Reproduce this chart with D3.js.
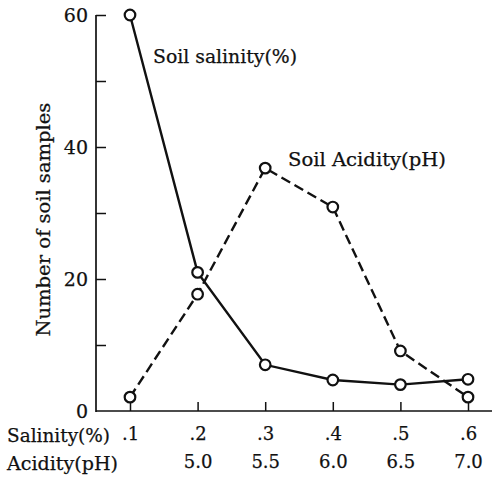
<!DOCTYPE html>
<html>
<head>
<meta charset="utf-8">
<script src="https://cdn.jsdelivr.net/npm/d3@7"></script>
<style>
  body { margin: 0; background: #fff; }
  svg { display: block; }
  text { stroke: #111; stroke-width: 0.25px; }
</style>
</head>
<body>
<svg id="chart" width="492" height="477"></svg>
<script>
// values
const salinity = [0.1, 0.2, 0.3, 0.4, 0.5, 0.6];
const salinityLabels = [".1", ".2", ".3", ".4", ".5", ".6"];
const acidityLabels = ["", "5.0", "5.5", "6.0", "6.5", "7.0"];
const salinityCounts = [60, 21, 7, 4.7, 4, 4.8];
const acidityCounts = [2.1, 17.7, 36.8, 30.9, 9.1, 2.1];
const yMajor = [0, 20, 40, 60];
const yMinor = [10, 30, 50];

const FONT = "'DejaVu Serif', 'Liberation Serif', serif";
const INK = "#111";

const svg = d3.select("#chart");
const width = 492;
const axisX = 96, axisY = 411;

const x = d3.scaleLinear().domain([0.1, 0.6]).range([130, 468]);
const y = d3.scaleLinear().domain([0, 60]).range([axisY, 15]);

// axis lines
svg.append("line")
    .attr("x1", axisX).attr("x2", axisX)
    .attr("y1", y(60)).attr("y2", axisY + 1)
    .attr("stroke", INK).attr("stroke-width", 1.7);
svg.append("line")
    .attr("x1", axisX).attr("x2", width)
    .attr("y1", axisY).attr("y2", axisY)
    .attr("stroke", INK).attr("stroke-width", 1.7);

// y axis, ticks point inward
const yAxis = svg.append("g")
    .attr("transform", `translate(${axisX},0)`)
    .call(d3.axisLeft(y).tickValues(yMajor).tickSizeInner(-10).tickSizeOuter(0).tickPadding(8).tickFormat(d3.format("d")));
yAxis.attr("font-family", FONT).attr("font-size", 19);
yAxis.select(".domain").remove();
yAxis.selectAll(".tick line").attr("stroke", INK).attr("stroke-width", 1.5)
    .filter(d => d === 0).remove();
yAxis.selectAll("text").attr("fill", INK).attr("dy", "0.36em");

const yMinorAxis = svg.append("g")
    .attr("transform", `translate(${axisX},0)`)
    .call(d3.axisLeft(y).tickValues(yMinor).tickSizeInner(-10).tickSizeOuter(0).tickFormat(""));
yMinorAxis.select(".domain").remove();
yMinorAxis.selectAll(".tick line").attr("stroke", INK).attr("stroke-width", 1.5);

// x axis, ticks point up
const xAxis = svg.append("g")
    .attr("transform", `translate(0,${axisY})`)
    .call(d3.axisBottom(x).tickValues(salinity).tickSizeInner(-9).tickSizeOuter(0).tickPadding(16)
        .tickFormat((d, i) => salinityLabels[i]));
xAxis.attr("font-family", FONT).attr("font-size", 18);
xAxis.select(".domain").remove();
xAxis.selectAll(".tick line").attr("stroke", INK).attr("stroke-width", 1.5);
xAxis.selectAll("text").attr("fill", INK);

const xAxis2 = svg.append("g")
    .attr("transform", `translate(0,${axisY + 28})`)
    .call(d3.axisBottom(x).tickValues(salinity).tickSize(0).tickPadding(16)
        .tickFormat((d, i) => acidityLabels[i]));
xAxis2.attr("font-family", FONT).attr("font-size", 18);
xAxis2.select(".domain").remove();
xAxis2.selectAll("text").attr("fill", INK);

// row titles on the left of the x labels
svg.append("text").attr("x", 7).attr("y", 442)
    .attr("font-family", FONT).attr("font-size", 19).attr("fill", INK)
    .attr("textLength", 103).attr("lengthAdjust", "spacingAndGlyphs")
    .text("Salinity(%)");
svg.append("text").attr("x", 7).attr("y", 470)
    .attr("font-family", FONT).attr("font-size", 19).attr("fill", INK)
    .attr("textLength", 111).attr("lengthAdjust", "spacingAndGlyphs")
    .text("Acidity(pH)");

// y title
svg.append("text")
    .attr("transform", `translate(50,${y(29)}) rotate(-90)`)
    .attr("text-anchor", "middle")
    .attr("font-family", FONT).attr("font-size", 18).attr("fill", INK)
    .attr("textLength", 234).attr("lengthAdjust", "spacingAndGlyphs")
    .text("Number of soil samples");

// lines
const line = d3.line().x((d, i) => x(salinity[i])).y(d => y(d));

svg.append("path")
    .datum(acidityCounts)
    .attr("d", line)
    .attr("fill", "none").attr("stroke", INK).attr("stroke-width", 2.4)
    .attr("stroke-dasharray", "10,5");

svg.append("path")
    .datum(salinityCounts)
    .attr("d", line)
    .attr("fill", "none").attr("stroke", INK).attr("stroke-width", 2.4);

[salinityCounts, acidityCounts].forEach(series => {
    svg.append("g").selectAll("circle")
        .data(series)
        .join("circle")
        .attr("cx", (d, i) => x(salinity[i]))
        .attr("cy", d => y(d))
        .attr("r", 5.3)
        .attr("fill", "#fff")
        .attr("stroke", INK)
        .attr("stroke-width", 2.2);
});

// series labels
svg.append("text").attr("x", 153).attr("y", 63)
    .attr("font-family", FONT).attr("font-size", 18).attr("fill", INK)
    .attr("textLength", 144).attr("lengthAdjust", "spacingAndGlyphs")
    .text("Soil salinity(%)");
svg.append("text").attr("x", 288).attr("y", 166)
    .attr("font-family", FONT).attr("font-size", 18).attr("fill", INK)
    .attr("textLength", 158).attr("lengthAdjust", "spacingAndGlyphs")
    .text("Soil Acidity(pH)");
</script>
</body>
</html>
